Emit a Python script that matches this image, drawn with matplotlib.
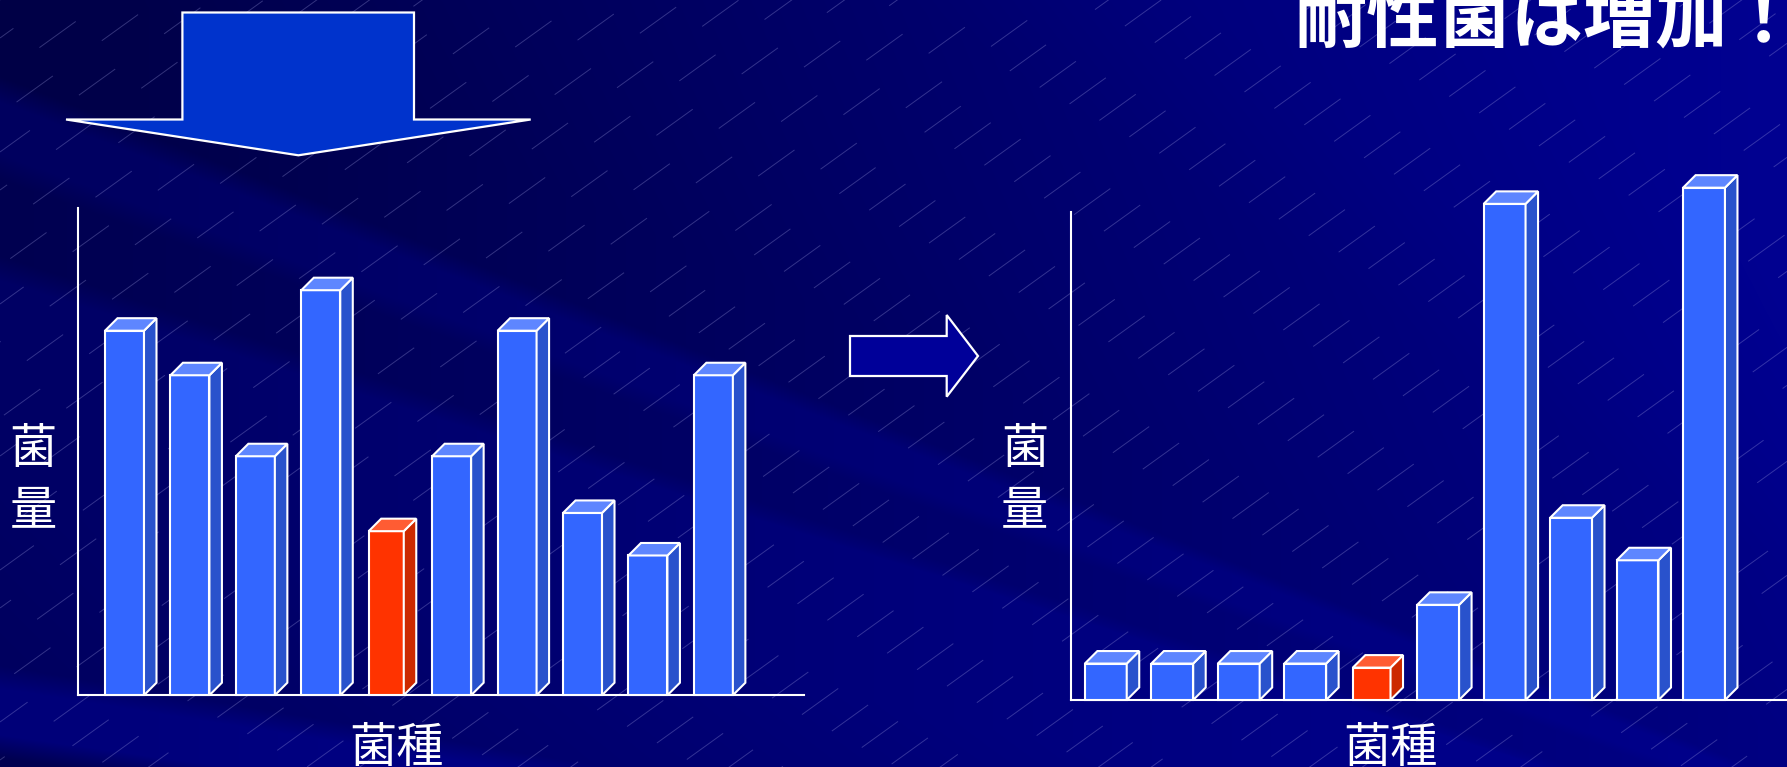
import numpy as np
import matplotlib.pyplot as plt
from matplotlib.patches import Polygon

plt.rcParams['font.family'] = ['Noto Sans CJK JP', 'DejaVu Sans']

# bacterial load per species, before and after the antibiotic
before = [9.0, 7.9, 5.9, 10.0, 4.05, 5.9, 9.0, 4.5, 3.45, 7.9]
after = [0.9, 0.9, 0.9, 0.9, 0.8, 2.35, 12.25, 4.5, 3.45, 12.65]
target = 4  # the species the drug is aimed at (red bar)
ylabel = ['菌', '量']
xlabel = '菌種'
title = '耐性菌は増加！'

W, H = 1787, 767
UNIT = 40.5    # pixels per value unit on both charts
DEPTH = 12.5   # pixel depth of the 3d bars

BLUE = ('#3366ff', '#5e86ff', '#2952cc')
RED = ('#ff3300', '#ff5c33', '#cc2900')

fig = plt.figure(figsize=(W / 100, H / 100), dpi=100)

# --- slide background: navy with diagonal light/dark rays ---
bg = fig.add_axes([0, 0, 1, 1])
bg.set_xlim(0, W)
bg.set_ylim(H, 0)
bg.axis('off')

yy, xx = np.mgrid[0:H, 0:W].astype(float)
ang = np.degrees(np.arctan2(1100 - yy, 2600 - xx))
knots = [5, 7.5, 8.0, 9.0, 9.5, 13, 17.5, 18, 19.5, 20, 21, 21.5, 24, 28, 33, 38, 45, 60]
shift = [-10, -15, 25, 25, 0, 5, 5, -15, -15, 0, 0, -25, -25, -20, -15, 0, 5, 5]
s = np.interp(ang, knots, shift)
s = np.where(s < 0, s * (1 - 0.6 * xx / W), s)   # dark rays fade toward the right
b = 95 + 45 * xx / W + s
img = np.zeros((H, W, 3))
img[..., 2] = np.clip(b, 0, 255) / 255
img[..., 0] = img[..., 1] = np.clip(b - 140, 0, 255) * 0.3 / 255
bg.imshow(img, extent=(0, W, H, 0), aspect='auto', interpolation='bilinear')

# faint dashed diagonal texture
xs = np.array([0, W])
for k, c in enumerate(np.arange(0, W * 0.72 + H + 40, 38)):
    bg.plot(xs, c - 0.72 * xs, color='#a8a8e8', lw=0.7, alpha=0.3,
            ls=((k * 29) % 108, (46, 62)))

# block arrows
down = [(182.4, 12.5), (414, 12.5), (414, 119.5), (530.7, 119.5),
        (298.4, 155.3), (66, 119.5), (182.4, 119.5)]
bg.add_patch(Polygon(down, closed=True, fc='#0033cc', ec='white', lw=1.6, zorder=2))
right = [(850, 336), (946.7, 336), (946.7, 315), (978, 356),
         (946.7, 396.7), (946.7, 376), (850, 376)]
bg.add_patch(Polygon(right, closed=True, fc='#000099', ec='white', lw=1.6, zorder=2))


def chart(left, right, base, x0px, step, values, width, axis_top):
    ax = fig.add_axes([left / W, 1 - base / H, (right - left) / W, 14 * UNIT / H])
    ax.patch.set_visible(False)
    ax.set_xlim((left - x0px) / step, (right - x0px) / step)
    ax.set_ylim(0, 14)
    ax.set_xticks([])
    ax.set_yticks([])
    for s in ('top', 'right'):
        ax.spines[s].set_visible(False)
    for s in ('left', 'bottom'):
        ax.spines[s].set_color('white')
        ax.spines[s].set_linewidth(1.5)
    ax.spines['left'].set_bounds(0, axis_top)

    dx = DEPTH / step
    dy = DEPTH / UNIT
    for i, v in enumerate(values):
        front, top, side = RED if i == target else BLUE
        w = width * (0.9 if i == target else 1.0)
        xa, xb = i - w / 2, i + w / 2
        ax.bar(i, v, width=w, color=front, edgecolor='white', linewidth=1.5,
               zorder=3, clip_on=False)
        ax.add_patch(Polygon([(xb, 0), (xb + dx, dy), (xb + dx, v + dy), (xb, v)],
                             fc=side, ec='white', lw=1.5, zorder=3, clip_on=False))
        ax.add_patch(Polygon([(xa, v), (xa + dx, v + dy), (xb + dx, v + dy), (xb, v)],
                             fc=top, ec='white', lw=1.5, zorder=3, clip_on=False))
    return ax


chart(77.5, 803.5, 695.2, 124.5, 65.43, before, 0.596, 12.04)
chart(1071.3, W, 700.0, 1105.8, 66.47, after, 0.63, 12.05)

# labels
for cx in (33, 1024.6):
    for ch, cy in zip(ylabel, (450, 511)):
        fig.text(cx / W, 1 - cy / H, ch, color='white', fontsize=34,
                 ha='center', va='center')
for cx in (397, 1390):
    fig.text(cx / W, 1 - 724 / H, xlabel, color='white', fontsize=34,
             ha='center', va='top')

fig.text(1294 / W, 1 - 42 / H, title, color='white', fontsize=52,
         fontweight='bold', ha='left', va='baseline')

fig.savefig('out.png', dpi=100)
